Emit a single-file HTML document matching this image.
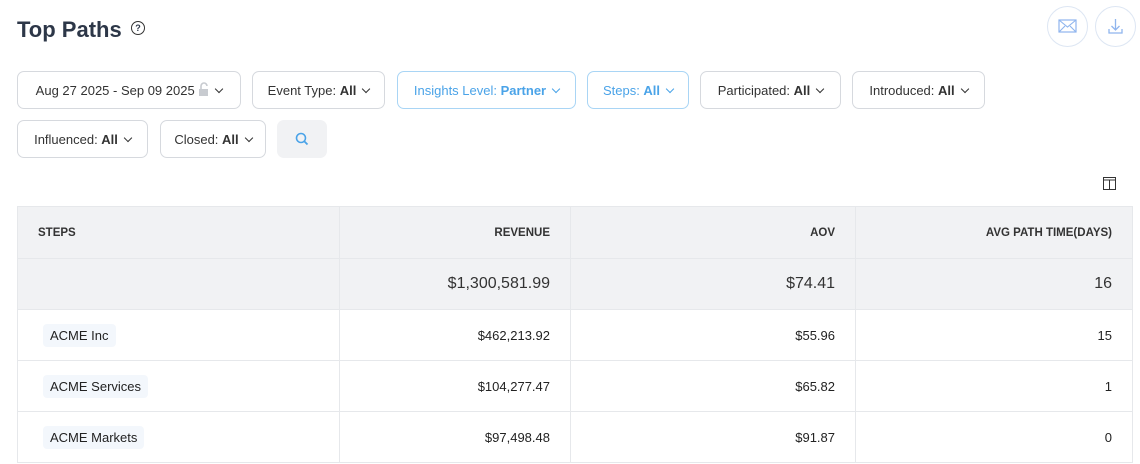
<!DOCTYPE html><html><head><style>
body{margin:0;width:1140px;height:464px;background:#fff;font-family:"Liberation Sans",sans-serif;color:#2d3748;position:relative;overflow:hidden}
.a{position:absolute}
.btn{position:absolute;height:36px;border:1px solid #d6d9de;border-radius:7px;font-size:13px;line-height:37px;text-align:center;color:#333;box-sizing:content-box}
.btn b{font-weight:bold}
.blue{border-color:#a9d5f5;color:#4aa3e8}
.chev{display:inline-block;width:5px;height:5px;border-right:1.3px solid currentColor;border-bottom:1.3px solid currentColor;transform:rotate(45deg);margin-left:7px;position:relative;top:-3px}
table{position:absolute;left:17px;top:206px;width:1116px;border-collapse:collapse;font-size:13px}
td,th{border:1px solid #e6e8eb;padding:0 20px;text-align:right}
th{background:#f1f2f4;height:51px;font-size:11.5px;font-weight:bold;color:#333}
.tot td{background:#f1f2f4;height:50px;font-size:16px;color:#333}
.r td{height:50px;color:#222}
.tag{display:inline-block;background:#f3f7fc;padding:4px 7px;border-radius:4px;font-size:13px}
</style></head><body>
<div class="a" style="left:17px;top:17px;font-size:22px;font-weight:bold;color:#2d3748">Top Paths</div>
<div class="a" style="left:131px;top:21px;width:12px;height:12px;border:1px solid #333;border-radius:50%;font-size:9px;text-align:center;line-height:12px;font-weight:bold">?</div>
<div class="a" style="left:1047px;top:6px;width:39px;height:39px;border:1px solid #dde6f3;border-radius:50%"><svg width="39" height="39"><rect x="11" y="13" width="17" height="12" fill="none" stroke="#8fb5ee" stroke-width="1.2"/><path d="M11 13l8.5 7 8.5-7M11 25l6-6M28 25l-6-6" fill="none" stroke="#8fb5ee" stroke-width="1.1"/></svg></div>
<div class="a" style="left:1095px;top:6px;width:39px;height:39px;border:1px solid #dde6f3;border-radius:50%"><svg width="39" height="39"><path d="M19.5 12v11M15.5 19l4 4 4-4M13 22v4h13v-4" fill="none" stroke="#8fb5ee" stroke-width="1.3"/></svg></div>
<div class="btn" style="left:17px;top:71px;width:222px">Aug 27 2025 - Sep 09 2025 <svg width="11" height="14" style="vertical-align:-1px"><path d="M3 7V4a3 3 0 0 1 6 0" fill="none" stroke="#c8cbd0" stroke-width="1.6"/><rect x="1" y="7" width="9" height="7" fill="#c8cbd0"/></svg><span class="chev"></span></div>
<div class="btn" style="left:252px;top:71px;width:131px">Event Type: <b>All</b><span class="chev"></span></div>
<div class="btn blue" style="left:397px;top:71px;width:177px">Insights Level: <b>Partner</b><span class="chev"></span></div>
<div class="btn blue" style="left:587px;top:71px;width:100px">Steps: <b>All</b><span class="chev"></span></div>
<div class="btn" style="left:700px;top:71px;width:139px">Participated: <b>All</b><span class="chev"></span></div>
<div class="btn" style="left:852px;top:71px;width:131px">Introduced: <b>All</b><span class="chev"></span></div>
<div class="btn" style="left:17px;top:120px;width:129px">Influenced: <b>All</b><span class="chev"></span></div>
<div class="btn" style="left:160px;top:120px;width:104px">Closed: <b>All</b><span class="chev"></span></div>
<div class="a" style="left:277px;top:120px;width:50px;height:38px;background:#f1f2f4;border-radius:7px"><svg width="50" height="38"><circle cx="24" cy="18" r="4.5" fill="none" stroke="#4aa3e8" stroke-width="1.6"/><path d="M27.5 21.5l3 3" stroke="#4aa3e8" stroke-width="1.8"/></svg></div>
<svg class="a" style="left:1103px;top:177px" width="13" height="13"><rect x="0.5" y="0.5" width="12" height="12" fill="none" stroke="#333"/><path d="M0 3h13M6.5 3v10" stroke="#333"/></svg>
<table>
<tr><th style="text-align:left;width:281px">STEPS</th><th style="width:190px">REVENUE</th><th style="width:244px">AOV</th><th>AVG PATH TIME(DAYS)</th></tr>
<tr class="tot"><td></td><td>$1,300,581.99</td><td>$74.41</td><td>16</td></tr>
<tr class="r"><td style="text-align:left;padding-left:25px"><span class="tag">ACME Inc</span></td><td>$462,213.92</td><td>$55.96</td><td>15</td></tr>
<tr class="r"><td style="text-align:left;padding-left:25px"><span class="tag">ACME Services</span></td><td>$104,277.47</td><td>$65.82</td><td>1</td></tr>
<tr class="r"><td style="text-align:left;padding-left:25px"><span class="tag">ACME Markets</span></td><td>$97,498.48</td><td>$91.87</td><td>0</td></tr>
</table>
</body></html>
